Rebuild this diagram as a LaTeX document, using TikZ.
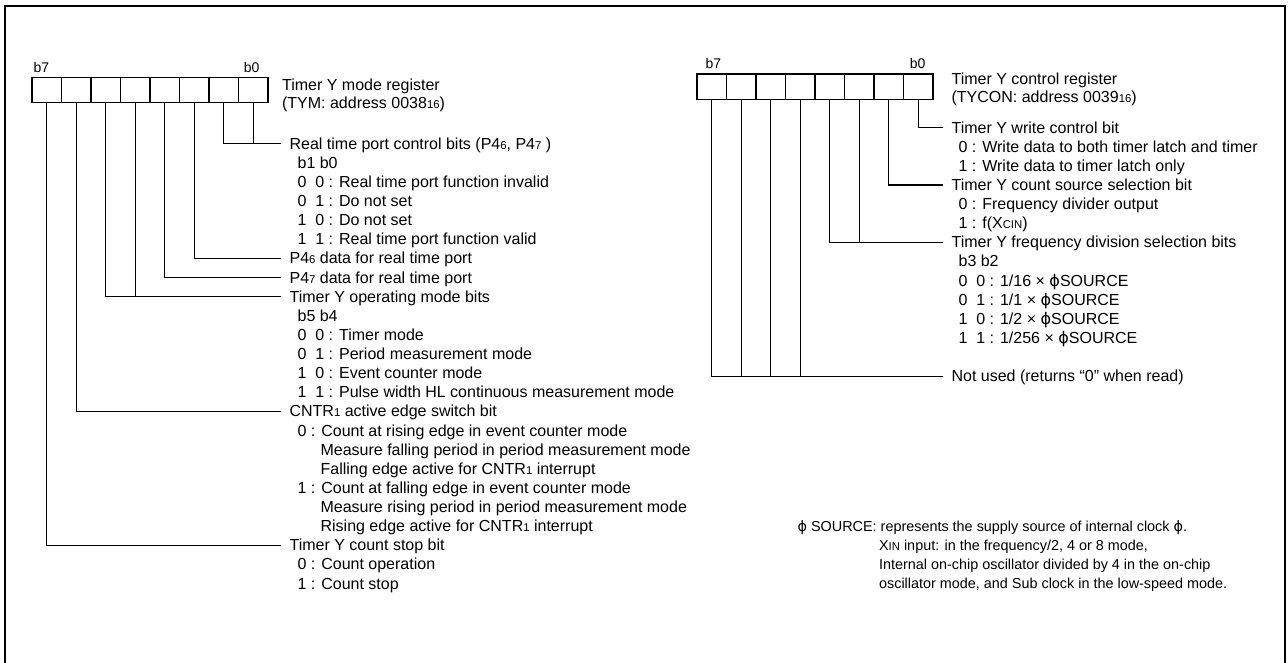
\documentclass[tikz,border=0pt]{standalone}
\usepackage{fontspec}
\setmainfont{Liberation Sans}
\newfontfamily\phifont{DejaVu Sans}
\newcommand{\lo}[1]{{\fontsize{8.5}{8.5}\selectfont #1}}
\newcommand{\phis}{{\phifont ϕ}}

\begin{document}
\begin{tikzpicture}[x=0.75pt,y=-0.75pt,line width=0.9pt,
  font=\fontsize{12}{14}\selectfont,
  cell/.style={draw, minimum width=22.1pt, minimum height=19pt, inner sep=0pt, outer sep=0pt},
  bitno/.style={font=\fontsize{10.5}{12}\selectfont, inner sep=0pt},
  txt/.style={anchor=west, inner xsep=6pt, inner ysep=0pt, text height=10pt, text depth=2pt},
  note/.style={anchor=west, inner sep=0pt, text height=9pt, text depth=2pt,
    font=\fontsize{10.8}{13}\selectfont}]

  \useasboundingbox (0,0) rectangle (1288,663);
  \draw[line width=1.5pt] (5.3,663) -- (5.3,6) -- (1284.5,6) -- (1284.5,663);

  % Timer Y mode register
  \foreach \i in {0,...,7}
    \node[cell] (tym\i) at ({46.75+29.5*(7-\i)},90) {};
  \node[bitno, anchor=base west] (tymhi) at (33,73) {b7};
  \node[bitno, anchor=base east] (tymlo) at (260,73) {b0};
  \node[txt, inner xsep=0pt] (tymname) at (281.5,85) {Timer Y mode register};
  \node[txt, inner xsep=0pt] (tymaddr) at (281.5,103) {(TYM: address 0038\lo{16})};

  \foreach \k/\x/\txt in {
    0/281/{Real time port control bits (P4\lo{6}, P4\lo{7} )},
    1/289/{b1 b0},
    2/289/{0~~0 : Real time port function invalid},
    3/289/{0~~1 : Do not set},
    4/289/{1~~0 : Do not set},
    5/289/{1~~1 : Real time port function valid},
    6/281/{P4\lo{6} data for real time port},
    7/281/{P4\lo{7} data for real time port},
    8/281/{Timer Y operating mode bits},
    9/289/{b5 b4},
    10/289/{0~~0 : Timer mode},
    11/289/{0~~1 : Period measurement mode},
    12/289/{1~~0 : Event counter mode},
    13/289/{1~~1 : Pulse width HL continuous measurement mode},
    14/281/{CNTR\lo{1} active edge switch bit},
    15/289/{0 : Count at rising edge in event counter mode},
    16/312/{Measure falling period in period measurement mode},
    17/312/{Falling edge active for CNTR\lo{1} interrupt},
    18/289/{1 : Count at falling edge in event counter mode},
    19/312/{Measure rising period in period measurement mode},
    20/312/{Rising edge active for CNTR\lo{1} interrupt},
    21/281/{Timer Y count stop bit},
    22/289/{0 : Count operation},
    23/289/{1 : Count stop}
  }
    \node[txt] (tyml\k) at (\x,{143.8+19.13*\k}) {\txt};

  \draw (tym0.south) |- (tyml0.west);
  \draw (tym1.south) |- (tyml0.west);
  \draw (tym2.south) |- (tyml6.west);
  \draw (tym3.south) |- (tyml7.west);
  \draw (tym4.south) |- (tyml8.west);
  \draw (tym5.south) |- (tyml8.west);
  \draw (tym6.south) |- (tyml14.west);
  \draw (tym7.south) |- (tyml21.west);

  % Timer Y control register
  \foreach \i in {0,...,7}
    \node[cell] (tyc\i) at ({711.75+29.5*(7-\i)},86.75) {};
  \node[bitno, anchor=base west] (tychi) at (705,69) {b7};
  \node[bitno, anchor=base east] (tyclo) at (926,69) {b0};
  \node[txt, inner xsep=0pt] (tycname) at (951,79) {Timer Y control register};
  \node[txt, inner xsep=0pt] (tycaddr) at (951,97) {(TYCON: address 0039\lo{16})};

  \foreach \k/\x/\txt in {
    0/943/{Timer Y write control bit},
    1/950/{0 : Write data to both timer latch and timer},
    2/950/{1 : Write data to timer latch only},
    3/943/{Timer Y count source selection bit},
    4/950/{0 : Frequency divider output},
    5/950/{1 : f(X\lo{CIN})},
    6/943/{Timer Y frequency division selection bits},
    7/950/{b3 b2},
    8/950/{0~~0 : 1/16 × \phis SOURCE},
    9/950/{0~~1 : 1/1 × \phis SOURCE},
    10/950/{1~~0 : 1/2 × \phis SOURCE},
    11/950/{1~~1 : 1/256 × \phis SOURCE},
    13/943/{Not used (returns “0” when read)}
  }
    \node[txt] (tycl\k) at (\x,{127.7+19.13*\k}) {\txt};

  \draw (tyc0.south) |- (tycl0.west);
  \draw (tyc1.south) |- (tycl3.west);
  \draw (tyc2.south) |- (tycl6.west);
  \draw (tyc3.south) |- (tycl6.west);
  \foreach \i in {4,...,7}
    \draw (tyc\i.south) |- (tycl13.west);

  % note on the clock source
  \node[note] (src0) at (797,526.4) {\phis\ SOURCE: represents the supply source of internal clock \phis.};
  \node[note] (src1) at (878.5,545.5) {X\lo{IN} input: in the frequency/2, 4 or 8 mode,};
  \node[note] (src2) at (878.5,564.7) {Internal on-chip oscillator divided by 4 in the on-chip};
  \node[note] (src3) at (878.5,583.8) {oscillator mode, and Sub clock in the low-speed mode.};
\end{tikzpicture}
\end{document}
